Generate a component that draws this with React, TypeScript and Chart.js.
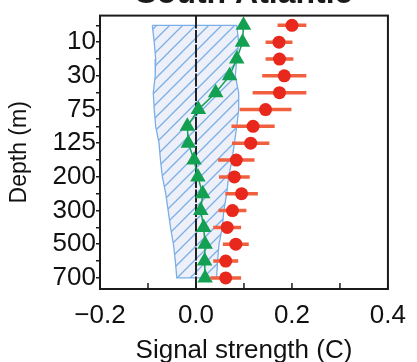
import React, { useEffect, useRef } from 'react';
import { Chart, registerables } from 'chart.js';

Chart.register(...registerables);

const FONT = "'Liberation Sans', Arial, Helvetica, sans-serif";

// Depth categories (rows, top to bottom)
const depthLabels = ['5', '10', '20', '30', '50', '75', '100', '125', '150', '200', '250', '300', '400', '500', '600', '700'];
// Green triangles (model signal)
const greenValues = [0.099, 0.097, 0.085, 0.070, 0.041, 0.005, -0.018, -0.016, -0.004, 0.004, 0.014, 0.010, 0.016, 0.019, 0.018, 0.019];
// Red circles (observed signal) and their half error widths
const redValues = [0.200, 0.173, 0.174, 0.184, 0.174, 0.145, 0.119, 0.114, 0.084, 0.080, 0.095, 0.076, 0.065, 0.083, 0.062, 0.062];
const redErrors = [0.030, 0.028, 0.029, 0.046, 0.056, 0.054, 0.045, 0.039, 0.038, 0.032, 0.034, 0.029, 0.029, 0.027, 0.026, 0.032];
// Hatched noise band limits
const bandLow = [-0.091, -0.087, -0.084, -0.085, -0.089, -0.087, -0.084, -0.077, -0.074, -0.070, -0.063, -0.058, -0.053, -0.047, -0.043, -0.040];
const bandHigh = [0.085, 0.089, 0.085, 0.082, 0.089, 0.089, 0.085, 0.080, 0.075, 0.068, 0.064, 0.058, 0.055, 0.048, 0.045, 0.043];
// X axis ticks
const xTickValues = [-0.2, -0.1, 0, 0.1, 0.2, 0.3, 0.4];
const xTickLabels = ['\u22120.2', '', '0.0', '', '0.2', '', '0.4'];

const TITLE = 'South Atlantic';
const Y_MIN = -0.58;
const Y_MAX = 15.66;

export default function App() {
  const ref = useRef<HTMLCanvasElement | null>(null);

  useEffect(() => {
    document.body.style.margin = '0';
    const canvas = ref.current;
    if (!canvas) return;
    const ctx = canvas.getContext('2d')!;

    // hatch pattern
    const pc = document.createElement('canvas');
    const T = 13;
    pc.width = T;
    pc.height = T;
    const p = pc.getContext('2d')!;
    p.fillStyle = '#eef0f9';
    p.fillRect(0, 0, T, T);
    p.strokeStyle = '#7aaee6';
    p.lineWidth = 1.3;
    p.beginPath();
    p.moveTo(-3, T + 3);
    p.lineTo(T + 3, -3);
    p.moveTo(-3, 3);
    p.lineTo(3, -3);
    p.moveTo(T - 3, T + 3);
    p.lineTo(T + 3, T - 3);
    p.stroke();
    const pattern = ctx.createPattern(pc, 'repeat')!;

    const bandData = [
      ...bandLow.map((v, i) => ({ x: v, y: i })),
      ...bandHigh.map((v, i) => ({ x: v, y: i })).reverse(),
      { x: bandLow[0], y: 0 },
    ];
    const errData: { x: number | null; y: number }[] = [];
    redValues.forEach((v, i) => {
      errData.push({ x: v - redErrors[i], y: i });
      errData.push({ x: v + redErrors[i], y: i });
      errData.push({ x: null, y: i });
    });

    const framePlugin = {
      id: 'frameTicks',
      afterDatasetsDraw(chart: any) {
        const c = chart.ctx;
        const { left, right, top, bottom } = chart.chartArea;
        const xs = chart.scales.x;
        c.save();
        c.strokeStyle = '#1a1a1a';
        c.lineWidth = 1.5;
        xs.ticks.forEach((t: any) => {
          const px = xs.getPixelForValue(t.value);
          c.beginPath();
          c.moveTo(px, bottom);
          c.lineTo(px, bottom - 6);
          c.stroke();
        });
        c.lineWidth = 2;
        c.strokeRect(left, top, right - left, bottom - top);
        c.restore();
      },
      afterDraw(chart: any) {
        const c = chart.ctx;
        const { left, right } = chart.chartArea;
        c.save();
        c.font = `bold 32px ${FONT}`;
        c.fillStyle = '#1a1a1a';
        c.textAlign = 'center';
        c.textBaseline = 'alphabetic';
        c.fillText(TITLE, (left + right) / 2, 3);
        c.restore();
      },
    };

    const chart = new Chart(ctx, {
      type: 'line',
      data: {
        datasets: [
          {
            label: 'observed',
            data: redValues.map((v, i) => ({ x: v, y: i })),
            showLine: false,
            pointRadius: 6.5,
            pointBackgroundColor: '#e8281c',
            pointBorderColor: '#e8281c',
            pointBorderWidth: 0,
          },
          {
            label: 'errors',
            data: errData as any,
            borderColor: '#f05f3e',
            borderWidth: 3.5,
            pointRadius: 0,
            spanGaps: false,
          },
          {
            label: 'model',
            data: greenValues.map((v, i) => ({ x: v, y: i })),
            borderColor: '#14a052',
            borderWidth: 1.5,
            pointStyle: 'triangle',
            pointRadius: 9,
            pointBackgroundColor: '#14a052',
            pointBorderColor: '#14a052',
            pointBorderWidth: 0,
          },
          {
            label: 'zero',
            data: [{ x: 0, y: Y_MIN }, { x: 0, y: Y_MAX }],
            borderColor: '#222222',
            borderWidth: 2,
            borderDash: [13, 1.5],
            pointRadius: 0,
          },
          {
            label: 'band',
            data: bandData,
            borderColor: '#7aaee6',
            borderWidth: 1.3,
            backgroundColor: pattern as any,
            fill: 'shape' as any,
            pointRadius: 0,
          },
        ],
      },
      options: {
        animation: false,
        responsive: false,
        devicePixelRatio: 1,
        layout: { padding: { top: 8, right: 21, left: 0, bottom: 0 } },
        plugins: { legend: { display: false }, tooltip: { enabled: false } },
        events: [],
        scales: {
          x: {
            type: 'linear',
            min: -0.2,
            max: 0.4,
            afterBuildTicks: (s: any) => {
              s.ticks = xTickValues.map((v) => ({ value: v }));
            },
            afterFit: (s: any) => {
              s.height = 73;
            },
            grid: { display: false, drawTicks: false },
            border: { display: false },
            ticks: {
              autoSkip: false,
              maxRotation: 0,
              padding: 11,
              color: '#111111',
              font: { size: 26, family: FONT },
              callback: (_v: any, i: number) => xTickLabels[i],
            },
            title: {
              display: true,
              text: 'Signal strength (C)',
              color: '#111111',
              font: { size: 26, family: FONT },
              padding: { top: 0, bottom: -4 },
            },
          },
          y: {
            type: 'linear',
            reverse: true,
            min: Y_MIN,
            max: Y_MAX,
            afterBuildTicks: (s: any) => {
              s.ticks = depthLabels.map((_, i) => ({ value: i }));
            },
            afterFit: (s: any) => {
              s.width = 100;
            },
            grid: {
              display: true,
              drawOnChartArea: false,
              drawTicks: true,
              tickLength: 4,
              color: '#1a1a1a',
              lineWidth: 1.5,
            },
            border: { display: false },
            ticks: {
              autoSkip: false,
              padding: 0,
              color: '#111111',
              font: { size: 26, family: FONT },
              callback: (_v: any, i: number) => (i % 2 === 1 ? depthLabels[i] : ''),
            },
            title: {
              display: true,
              text: 'Depth (m)',
              color: '#111111',
              font: { size: 23, family: FONT },
              padding: { top: 6, bottom: 0 },
            },
          },
        },
      },
      plugins: [framePlugin],
    });

    return () => chart.destroy();
  }, []);

  return (
    <div style={{ width: 417, height: 362 }}>
      <canvas ref={ref} width={417} height={362} style={{ display: 'block' }} />
    </div>
  );
}
